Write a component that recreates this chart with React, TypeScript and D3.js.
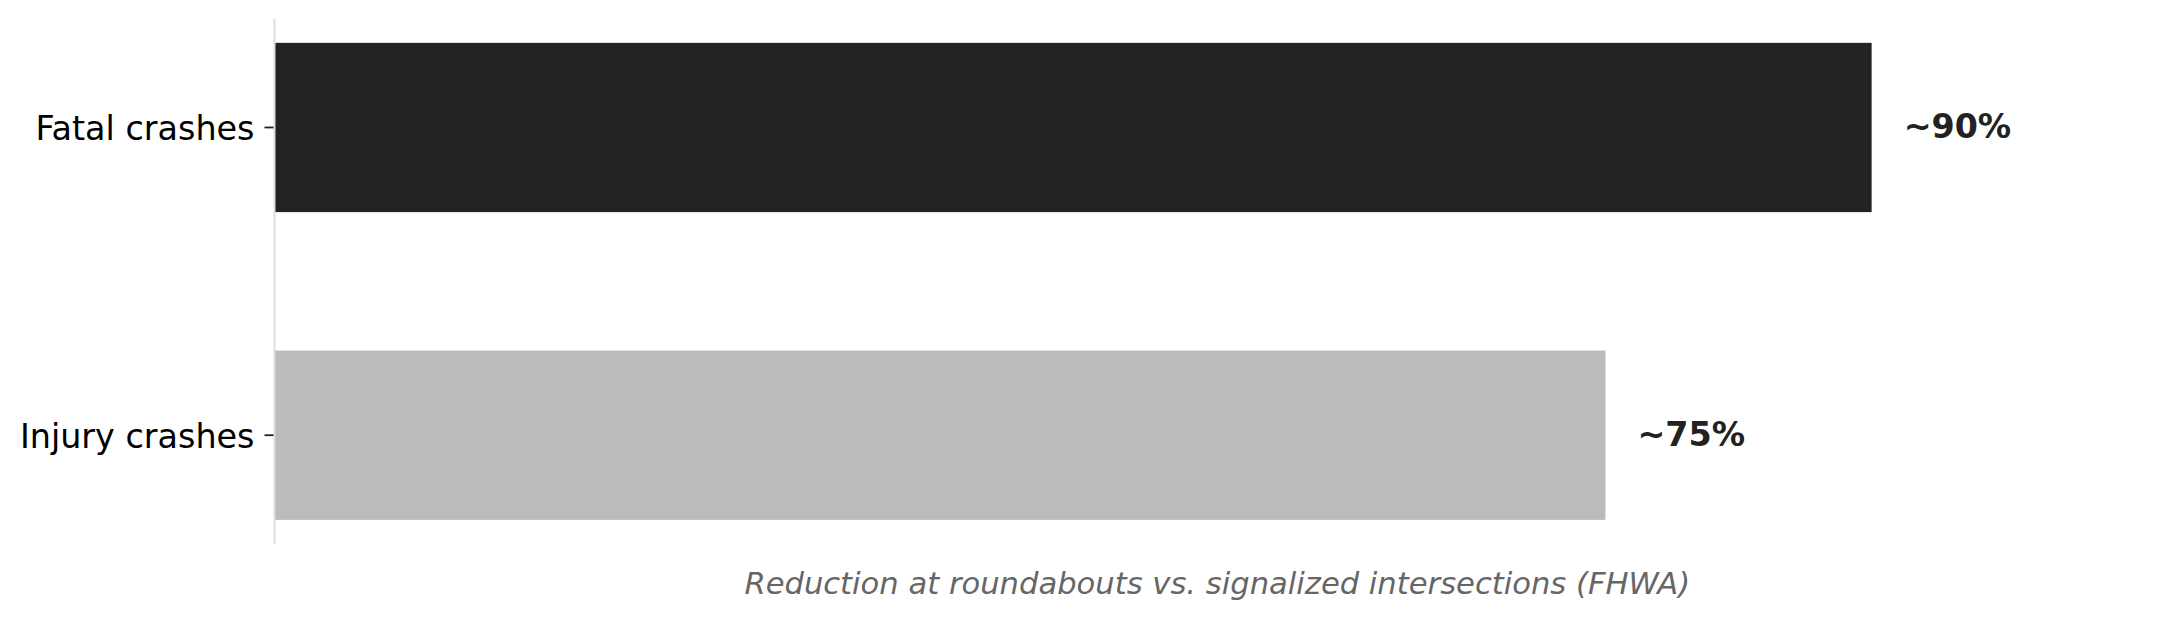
import React from "react";
import * as d3 from "d3";

const categories = ["Fatal crashes", "Injury crashes"];
const values = [90, 75];
const valueLabels = ["~90%", "~75%"];
const barColors = ["#222222", "#bbbbbb"];
const xLabel = "Reduction at roundabouts vs. signalized intersections (FHWA)";

const W = 2179;
const H = 620;
const left = 274.5;
const right = 2160;
const top = 19;
const bottom = 543.7;

export default function App() {
  const x = d3.scaleLinear().domain([0, 106.25]).range([left, right]);
  // matplotlib-like categorical y with margins
  const y = d3
    .scaleLinear()
    .domain([-0.3525, 1.3525])
    .range([top, bottom]);
  const barH = 0.55;
  const font = "'DejaVu Sans', sans-serif";
  return (
    <svg
      width={W}
      height={H}
      style={{ position: "absolute", left: 0, top: 0, background: "#fff" }}
    >
      {categories.map((c, i) => {
        const y0 = y(i - barH / 2);
        const y1 = y(i + barH / 2);
        const cy = y(i);
        return (
          <g key={c}>
            <rect
              x={x(0)}
              y={y0}
              width={x(values[i]) - x(0)}
              height={y1 - y0}
              fill={barColors[i]}
            />
            <text
              x={x(values[i]) + 32}
              y={cy}
              dy="0.33em"
              fontFamily={font}
              fontWeight="bold"
              fontSize={33.3}
              fill="#222222"
            >
              {valueLabels[i]}
            </text>
            <line x1={left - 10} x2={left} y1={cy} y2={cy} stroke="#222" strokeWidth={1.8} />
            <text
              x={left - 20}
              y={cy}
              dy="0.37em"
              textAnchor="end"
              fontFamily={font}
              fontSize={33.4}
              fill="#000"
            >
              {c}
            </text>
          </g>
        );
      })}
      <line x1={left} x2={left} y1={top} y2={bottom} stroke="#dddddd" strokeWidth={2} />
      <text
        x={(left + right) / 2}
        y={583.7}
        dy="0.35em"
        textAnchor="middle"
        fontFamily={font}
        fontStyle="italic"
        fontSize={30.6}
        fill="#666666"
      >
        {xLabel}
      </text>
    </svg>
  );
}
